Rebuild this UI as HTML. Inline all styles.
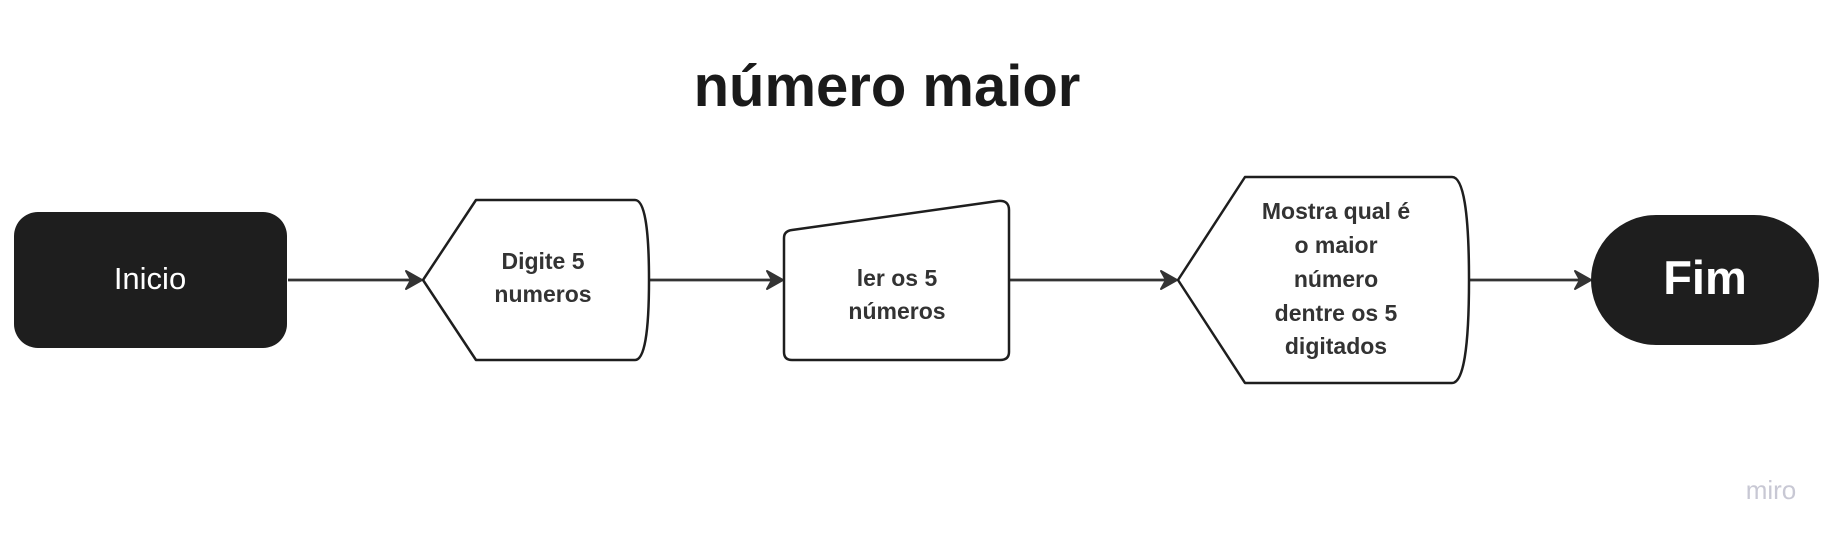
<!DOCTYPE html>
<html><head><meta charset="utf-8"><style>
html,body{margin:0;padding:0;background:#fff;}
svg{display:block;}
text{font-family:"Liberation Sans",sans-serif;}
</style></head><body>
<svg width="1842" height="542" viewBox="0 0 1842 542" xmlns="http://www.w3.org/2000/svg">
<defs>
<marker id="ah" markerWidth="20" markerHeight="22" refX="17" refY="11" orient="auto" markerUnits="userSpaceOnUse">
<path d="M2,2 L18,11 L2,20 L7,11 Z" fill="#333" stroke="#333" stroke-width="2" stroke-linejoin="round"/>
</marker>
</defs>
<text x="887" y="106" text-anchor="middle" font-size="58" font-weight="bold" fill="#1a1a1a">número maior</text>

<g stroke="#333" stroke-width="2.8" fill="none">
<line x1="288" y1="280" x2="421" y2="280" marker-end="url(#ah)"/>
<line x1="650" y1="280" x2="782" y2="280" marker-end="url(#ah)"/>
<line x1="1010" y1="280" x2="1176" y2="280" marker-end="url(#ah)"/>
<line x1="1469" y1="280" x2="1590" y2="280" marker-end="url(#ah)"/>
</g>

<rect x="14" y="212" width="273" height="136" rx="24" fill="#1e1e1e"/>
<text x="150" y="289" text-anchor="middle" font-size="31" fill="#fff">Inicio</text>

<path d="M423,280 L476,200 L635,200 Q649,200 649,280 Q649,360 635,360 L476,360 Z" fill="#fff" stroke="#1e1e1e" stroke-width="2.5" stroke-linejoin="round"/>
<text text-anchor="middle" font-size="23" font-weight="bold" fill="#333"><tspan x="543" y="269">Digite 5</tspan><tspan x="543" y="302">numeros</tspan></text>

<path d="M792,230 L998,201 Q1009,200 1009,210 L1009,352 Q1009,360 1000,360 L792,360 Q784,360 784,352 L784,238 Q784,231 792,230 Z" fill="#fff" stroke="#1e1e1e" stroke-width="2.5" stroke-linejoin="round"/>
<text text-anchor="middle" font-size="23" font-weight="bold" fill="#333"><tspan x="897" y="286">ler os 5</tspan><tspan x="897" y="319">números</tspan></text>

<path d="M1178,280 L1245,177 L1452,177 Q1469,177 1469,280 Q1469,383 1452,383 L1245,383 Z" fill="#fff" stroke="#1e1e1e" stroke-width="2.5" stroke-linejoin="round"/>
<text text-anchor="middle" font-size="23" font-weight="bold" fill="#333"><tspan x="1336" y="219">Mostra qual é</tspan><tspan x="1336" y="253">o maior</tspan><tspan x="1336" y="287">número</tspan><tspan x="1336" y="321">dentre  os 5</tspan><tspan x="1336" y="354">digitados</tspan></text>

<rect x="1591" y="215" width="228" height="130" rx="65" fill="#1e1e1e"/>
<text x="1705" y="294" text-anchor="middle" font-size="47" font-weight="bold" fill="#fff">Fim</text>

<text x="1771" y="499" text-anchor="middle" font-size="26" fill="#c8c8d4">miro</text>
</svg>
</body></html>
